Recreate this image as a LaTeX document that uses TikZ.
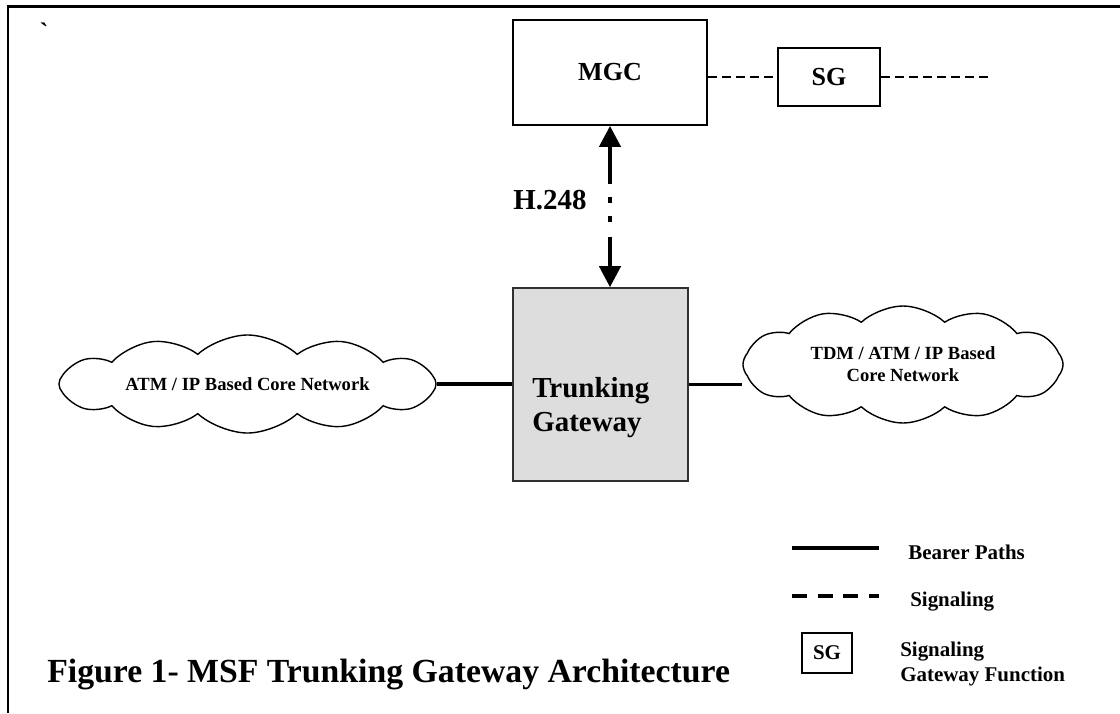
\documentclass[tikz,border=0pt]{standalone}
\usepackage{fontspec}
\setmainfont{Liberation Serif}
\usetikzlibrary{arrows.meta,positioning,calc,shapes.symbols}
\definecolor{TGGray}{HTML}{DDDDDD}
\definecolor{TGEdge}{HTML}{303030}

\begin{document}
\begin{tikzpicture}[x=0.025cm,y=-0.025cm,
  box/.style={draw=black,line width=1.2pt,inner sep=0pt},
  netcloud/.style={cloud,draw,line width=1pt,cloud puffs=12,cloud puff arc=85,
    cloud ignores aspect,inner sep=0pt,align=center,
    font=\fontsize{13.2}{15.6}\selectfont\bfseries},
  bearer/.style={line width=2.6pt},
  sigline/.style={line width=1.2pt,dash pattern=on 6.4pt off 3.6pt},
  lbl/.style={font=\fontsize{14.9}{17.8}\selectfont\bfseries,inner sep=0pt}]
  \path[use as bounding box] (0,0) rectangle (1120,713);

  % open frame: top and left edges only
  \draw[line width=1.8pt] (8,713) -- (8,6.5) -- (1120,6.5);
  \node[anchor=base,inner sep=0pt,font=\fontsize{18}{20}\selectfont\bfseries] (tick)
    at (44,40) {\textasciigrave};

  % call control and signaling gateway
  \node[box,minimum width=4.85cm,minimum height=2.625cm,
    font=\fontsize{18.5}{22}\selectfont\bfseries] (MGC) at (610,72.5) {MGC};
  \node[box,minimum width=2.55cm,minimum height=1.45cm,
    font=\fontsize{18.5}{22}\selectfont\bfseries] (SG) at (829,77) {SG};
  \coordinate (sgEnd) at (992,77);
  \draw[sigline] (MGC.east |- SG.west) -- (SG.west);
  \draw[sigline] (SG.east) -- (sgEnd);

  % the gateway itself
  \node[draw=TGEdge,fill=TGGray,line width=1.1pt,minimum width=4.375cm,
    minimum height=4.825cm] (TG) at (600.5,384.5) {};
  \node[anchor=west,align=left,inner sep=0pt,
    font=\fontsize{20.6}{24.2}\selectfont\bfseries] (TGtext) at (532,408)
    {Trunking\\Gateway};

  % H.248 control link
  \draw[line width=2.9pt,
    {Triangle[length=15pt,width=15pt]}-{Triangle[length=15pt,width=15pt]},
    dash pattern=on 27pt off 9.5pt on 4pt off 9.5pt on 4pt off 10.5pt on 60pt]
    (MGC.south) -- (MGC.south |- TG.north);
  \node[font=\fontsize{20.6}{24}\selectfont\bfseries,inner sep=0pt] (h248)
    at (550,200) {H.248};

  % core networks on both sides
  \node[netcloud,minimum width=9.425cm,minimum height=2.45cm] (leftNet)
    at (247.5,384) {ATM / IP Based Core Network};
  \node[netcloud,minimum width=8cm,minimum height=2.925cm] (rightNet)
    at (903,364.5) {TDM / ATM / IP Based\\Core Network};
  \draw[bearer] (leftNet.east) -- (TG.west |- leftNet.east);
  \draw[bearer] (TG.east) -- (TG.east -| rightNet.west);

  % legend
  \coordinate (bpA) at (792,548);
  \coordinate (bpB) at (879,548);
  \draw[bearer] (bpA) -- (bpB);
  \node[lbl,anchor=base west] (bpText) at (908,559) {Bearer Paths};
  \coordinate (sgA) at (792,596);
  \coordinate (sgB) at (879,596);
  \draw[line width=2.8pt,dash pattern=on 10.7pt off 7.5pt] (sgA) -- (sgB);
  \node[lbl,anchor=base west] (sigText) at (910,606) {Signaling};
  \node[box,minimum width=1.25cm,minimum height=1cm,
    font=\fontsize{14.9}{17.8}\selectfont\bfseries] (legSG) at (827,653) {SG};
  \node[lbl,anchor=west,align=left] (legSGText) at (900,664)
    {Signaling\\Gateway Function};

  \node[anchor=base west,inner sep=0pt,
    font=\fontsize{24}{28}\selectfont\bfseries] (caption) at (47,682)
    {Figure 1- MSF Trunking Gateway Architecture};
\end{tikzpicture}
\end{document}
